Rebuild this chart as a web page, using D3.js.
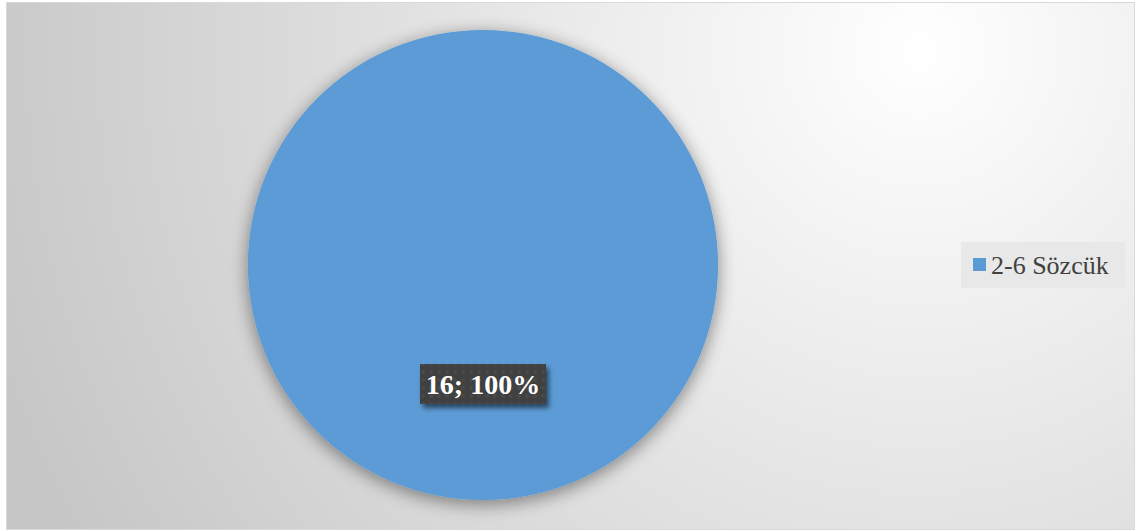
<!DOCTYPE html>
<html>
<head>
<meta charset="utf-8">
<script src="https://cdn.jsdelivr.net/npm/d3@7"></script>
<style>
  html, body { margin: 0; padding: 0; background: #ffffff; }
  svg { display: block; }
  .serif { font-family: "Liberation Serif", "DejaVu Serif", "Times New Roman", serif; }
</style>
</head>
<body>
<svg id="chart" width="1136" height="531"></svg>
<script>
// Word-count categories and their counts
const categories = ["2-6 Sözcük"];
const counts = [16];
const colors = ["#5b9bd5"];

const W = 1136, H = 531;
const svg = d3.select("#chart");
const defs = svg.append("defs");

// Chart-area background: soft radial light toward the upper right
const bg = defs.append("radialGradient").attr("id", "bgGrad")
  .attr("gradientUnits", "userSpaceOnUse")
  .attr("cx", 920).attr("cy", 50).attr("r", 980);
bg.append("stop").attr("offset", "0").attr("stop-color", "#ffffff");
bg.append("stop").attr("offset", "0.35").attr("stop-color", "#ebebeb");
bg.append("stop").attr("offset", "1").attr("stop-color", "#c6c6c6");

const pieShadow = defs.append("filter").attr("id", "pieShadow")
  .attr("x", "-20%").attr("y", "-20%").attr("width", "140%").attr("height", "140%");
pieShadow.append("feGaussianBlur").attr("in", "SourceAlpha").attr("stdDeviation", 9).attr("result", "b");
pieShadow.append("feOffset").attr("in", "b").attr("dx", 0).attr("dy", 4).attr("result", "o");
pieShadow.append("feComponentTransfer").attr("in", "o").attr("result", "s")
  .append("feFuncA").attr("type", "linear").attr("slope", 0.45);
const m1 = pieShadow.append("feMerge");
m1.append("feMergeNode").attr("in", "s");
m1.append("feMergeNode").attr("in", "SourceGraphic");

const boxShadow = defs.append("filter").attr("id", "boxShadow")
  .attr("x", "-20%").attr("y", "-40%").attr("width", "150%").attr("height", "200%");
boxShadow.append("feGaussianBlur").attr("in", "SourceAlpha").attr("stdDeviation", 2.5).attr("result", "b");
boxShadow.append("feOffset").attr("in", "b").attr("dx", 3).attr("dy", 4).attr("result", "o");
boxShadow.append("feComponentTransfer").attr("in", "o").attr("result", "s")
  .append("feFuncA").attr("type", "linear").attr("slope", 0.55);
const m2 = boxShadow.append("feMerge");
m2.append("feMergeNode").attr("in", "s");
m2.append("feMergeNode").attr("in", "SourceGraphic");

// Subtle dotted texture for the data-label box
const pat = defs.append("pattern").attr("id", "dots")
  .attr("patternUnits", "userSpaceOnUse").attr("width", 8).attr("height", 8);
pat.append("rect").attr("width", 8).attr("height", 8).attr("fill", "#3f3f3f");
pat.append("circle").attr("cx", 4).attr("cy", 4).attr("r", 2).attr("fill", "#494949");

svg.append("rect").attr("x", 0).attr("y", 0).attr("width", W).attr("height", H).attr("fill", "#ffffff");
svg.append("rect").attr("x", 6.5).attr("y", 2.5).attr("width", W - 8).attr("height", H - 4)
  .attr("fill", "url(#bgGrad)").attr("stroke", "#d9d9d9").attr("stroke-width", 1);

// Pie
const cx = 483, cy = 265, R = 235;
const pie = d3.pie().sort(null).value(d => d)(counts);
const arc = d3.arc().innerRadius(0).outerRadius(R);
const total = d3.sum(counts);

const g = svg.append("g").attr("transform", `translate(${cx},${cy})`);
g.selectAll("path.slice").data(pie).join("path")
  .attr("class", "slice")
  .attr("d", arc)
  .attr("fill", (d, i) => colors[i])
  .attr("filter", "url(#pieShadow)");

// Data labels: "value; percent"
const pct = d3.format(".0%");
const labels = g.selectAll("g.lbl").data(pie).join("g").attr("class", "lbl")
  .attr("transform", "translate(0,119)");
labels.each(function(d) {
  const lg = d3.select(this);
  lg.append("rect")
    .attr("x", -63).attr("y", -20).attr("width", 126).attr("height", 40)
    .attr("fill", "url(#dots)").attr("filter", "url(#boxShadow)");
  lg.append("text")
    .attr("class", "serif")
    .attr("text-anchor", "middle").attr("dy", "0.35em")
    .style("font-weight", "bold").style("font-size", "28px").attr("fill", "#ffffff")
    .text(`${d.data}; ${pct(d.data / total)}`);
});

// Legend
const legend = svg.append("g").attr("transform", "translate(961,242)");
legend.append("rect").attr("width", 164).attr("height", 46).attr("fill", "#e6e6e6").attr("opacity", 0.85);
categories.forEach((c, i) => {
  legend.append("rect").attr("x", 12).attr("y", 16 + i * 30).attr("width", 13).attr("height", 13).attr("fill", colors[i]);
  legend.append("text").attr("class", "serif").attr("x", 30).attr("y", 23 + i * 30).attr("dy", "0.35em")
    .style("font-size", "26px").attr("fill", "#404040").text(c);
});
</script>
</body>
</html>
